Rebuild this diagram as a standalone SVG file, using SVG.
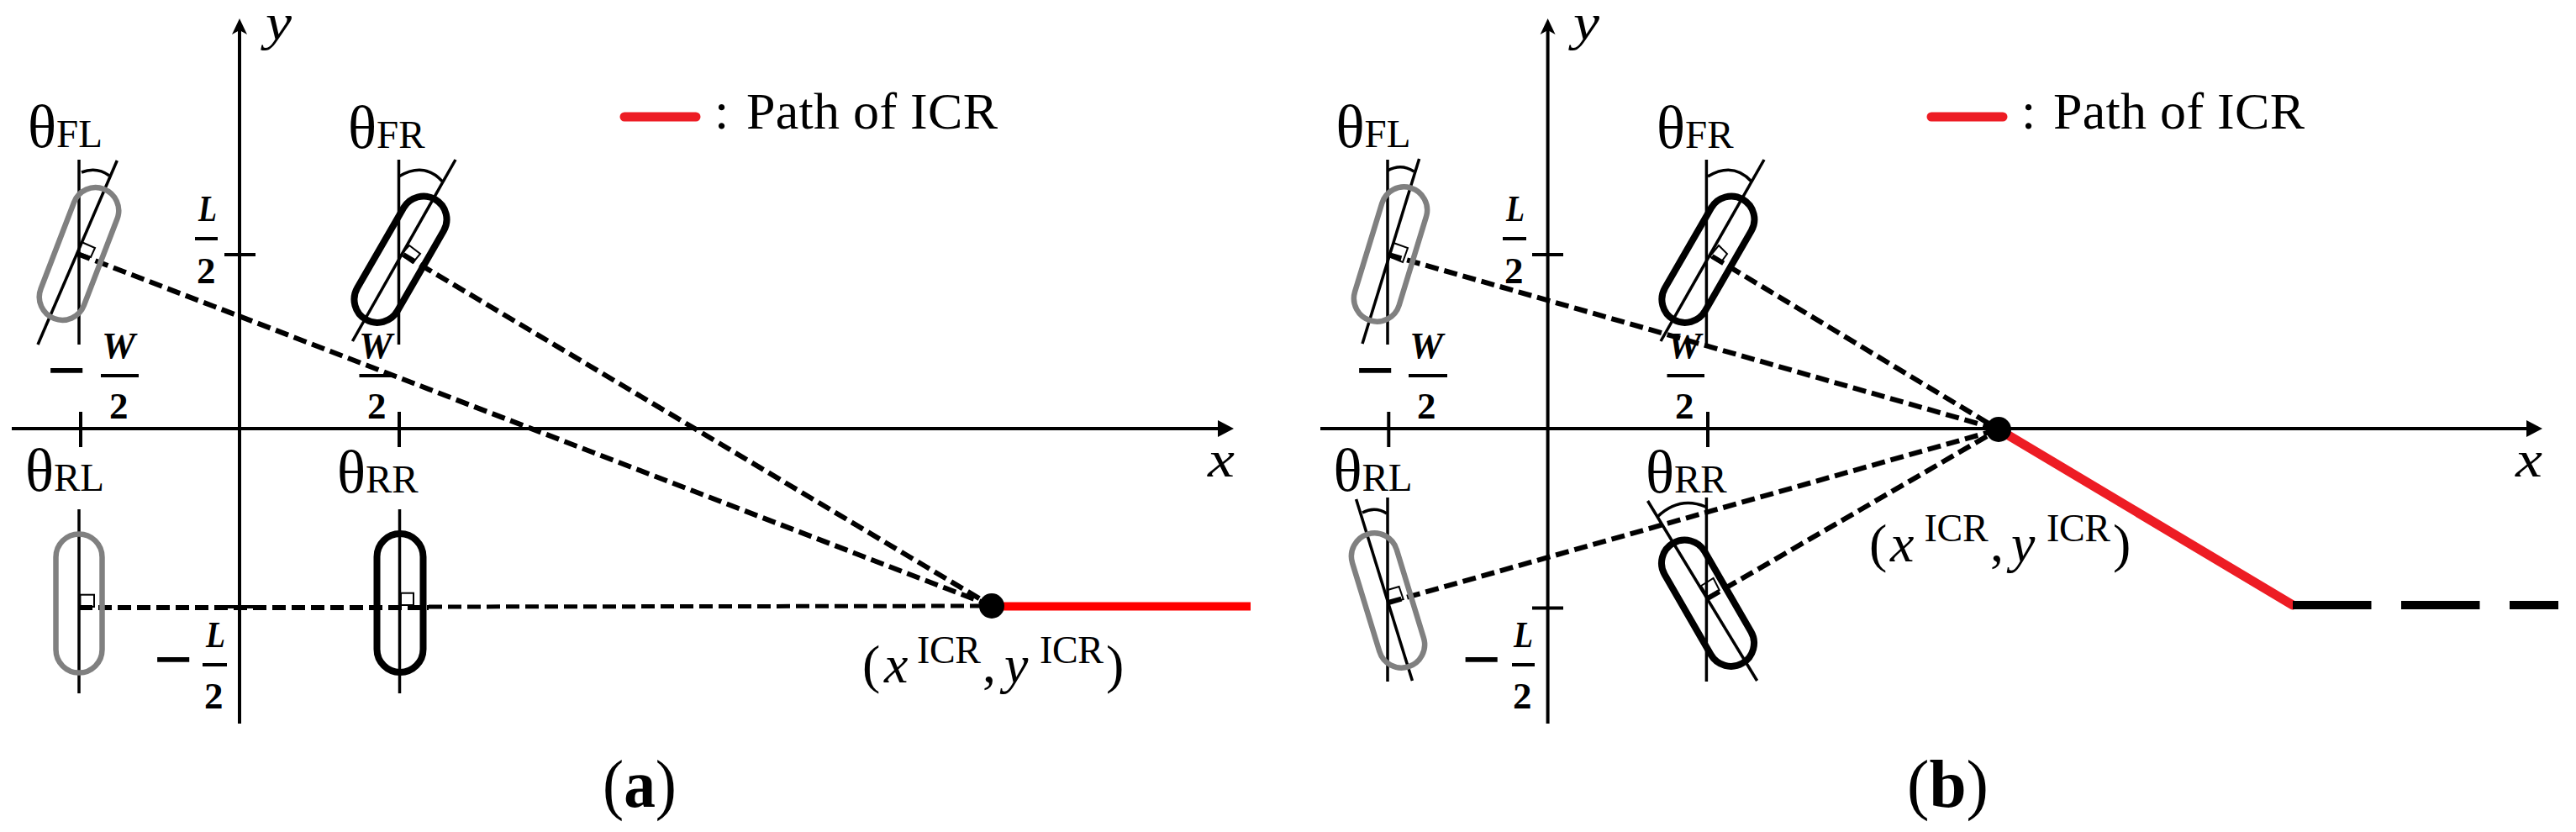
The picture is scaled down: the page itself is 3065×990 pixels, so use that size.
<svg xmlns="http://www.w3.org/2000/svg" width="3065" height="990" viewBox="0 0 3065 990">
<style>
text{font-family:"Liberation Serif","Times New Roman",serif;fill:#000}
.th{font-size:71px}.sub{font-size:47px}
.frac{font-size:45px;font-weight:bold;font-style:italic}
.two{font-size:45px;font-weight:bold}
.minus{font-size:82px;font-weight:bold}
.axl{font-size:62px;font-style:italic}
.leg{font-size:62px}
.m{font-size:64px;font-style:italic}
.pn{font-size:64px}
.sup{font-size:46px}
.cap{font-size:80px}
.capb{font-weight:bold}
.ax{stroke:#000;stroke-width:4;fill:none}
.thin{stroke:#000;stroke-width:3.500;fill:none}
.ang{stroke:#000;stroke-width:2;fill:none}
.bar{stroke:#000;stroke-width:4}
.dash{stroke:#000;stroke-width:6;stroke-dasharray:16 7;fill:none}
.dashn{stroke:#000;stroke-width:5;stroke-dasharray:16 7;fill:none}
.whg{fill:none;stroke:#808080;stroke-width:6.500}
.whk{fill:none;stroke:#000;stroke-width:8}
.redl{stroke:#ed1c24;stroke-width:11;stroke-linecap:round;fill:none}
</style>
<defs>
<marker id="ay" markerUnits="userSpaceOnUse" viewBox="0 0 20 20" refX="6" refY="10" markerWidth="20" markerHeight="20" orient="auto"><path d="M0 1L19 10L0 19L5 10Z" fill="#000"/></marker>
<marker id="ax" markerUnits="userSpaceOnUse" viewBox="0 0 20 20" refX="6" refY="10" markerWidth="20" markerHeight="20" orient="auto"><path d="M0 0L19 10L0 20Z" fill="#000"/></marker>
<rect id="wheel" x="-27.5" y="-82.5" width="55" height="165" rx="27.5" ry="27.5"/>
</defs>
<rect width="3065" height="990" fill="#fff"/>

<g id="panel-a">
<g id="a-axes">
<line class="ax" x1="285" y1="861" x2="285" y2="35" marker-end="url(#ay)"/>
<line class="ax" x1="14" y1="510" x2="1455" y2="510" marker-end="url(#ax)"/>
<line class="ax" x1="267" y1="303" x2="304" y2="303"/>
<line class="ax" x1="267" y1="722" x2="304" y2="722"/>
<line class="ax" x1="96" y1="490" x2="96" y2="532"/>
<line class="ax" x1="475" y1="490" x2="475" y2="532"/>
<text class="axl" x="316" y="47" textLength="31" lengthAdjust="spacingAndGlyphs">y</text>
<text class="axl" x="1437" y="567" textLength="32" lengthAdjust="spacingAndGlyphs">x</text>
</g>
<g id="a-connectors">
<line class="dash" x1="92" y1="302" x2="1180" y2="721"/>
<line class="dash" x1="480" y1="303" x2="1180" y2="721"/>
<line class="dash" x1="94" y1="723" x2="510" y2="723"/>
<line class="dashn" x1="510" y1="722" x2="1180" y2="721"/>
</g>
<g id="a-wheel-fl">
<line class="thin" x1="94" y1="190" x2="94" y2="410"/><line class="thin" x1="139.300" y1="191" x2="45" y2="410"/>
<path class="thin" d="M97 205Q115 198 130 209"/>
<use href="#wheel" class="whg" transform="translate(94 302) rotate(21)"/>
<path class="ang" d="M97 288L113 295L108 306L92 300Z"/>
<text class="th" x="33" y="175">θ<tspan class="sub">FL</tspan></text>
</g>
<g id="a-wheel-fr">
<line class="thin" x1="474.500" y1="190" x2="474.500" y2="410"/><line class="thin" x1="542" y1="190" x2="419.400" y2="406"/>
<path class="thin" d="M474.500 210Q505 192 526.500 216"/>
<use href="#wheel" class="whk" transform="translate(476.500 308.700) rotate(30)"/>
<path class="ang" d="M487 292L500 302L491 313L477 303Z"/>
<text class="th" x="414" y="175.700">θ<tspan class="sub">FR</tspan></text>
</g>
<g id="a-wheel-rl">
<line class="thin" x1="94" y1="606" x2="94" y2="825"/>
<use href="#wheel" class="whg" transform="translate(94 718)"/>
<rect class="ang" x="95.400" y="707.700" width="16.600" height="14.300"/>
<text class="th" x="30" y="584">θ<tspan class="sub">RL</tspan></text>
</g>
<g id="a-wheel-rr">
<line class="thin" x1="475.500" y1="606" x2="475.500" y2="825"/>
<use href="#wheel" class="whk" transform="translate(476 717.500)"/>
<rect class="ang" x="477" y="705.700" width="15" height="14.300"/>
<text class="th" x="401" y="586">θ<tspan class="sub">RR</tspan></text>
</g>
<g id="a-frac-l">
<text class="frac" x="236" y="263" textLength="22" lengthAdjust="spacingAndGlyphs">L</text><line class="bar" x1="232" y1="284" x2="259" y2="284"/><text class="two" x="234" y="337">2</text>
</g>
<g id="a-frac-w-left">
<text class="minus" x="56" y="468">−</text><text class="frac" x="121" y="426">W</text><line class="bar" x1="120" y1="447" x2="165" y2="447"/><text class="two" x="130" y="498">2</text>
</g>
<g id="a-frac-w-right">
<text class="frac" x="427" y="426">W</text><line class="bar" x1="427.500" y1="447" x2="472" y2="447"/><text class="two" x="437" y="498">2</text>
</g>
<g id="a-frac-l-neg">
<text class="minus" x="183" y="812">−</text><text class="frac" x="245" y="770" textLength="23" lengthAdjust="spacingAndGlyphs">L</text><line class="bar" x1="241" y1="791" x2="270" y2="791"/><text class="two" x="243" y="843">2</text>
</g>
<g id="a-icr">
<line stroke="#f00" stroke-width="10" x1="1180" y1="721.500" x2="1488" y2="721.500"/>
<circle cx="1180" cy="721" r="15"/>
<text class="pn" x="1026" y="812">(</text><text class="m" x="1052" y="812">x</text><text class="sup" x="1091" y="789" textLength="76">ICR</text><text class="pn" x="1169" y="812">,</text><text class="m" x="1195" y="812">y</text><text class="sup" x="1237" y="789" textLength="76">ICR</text><text class="pn" x="1316" y="812">)</text>
</g>
<g id="a-legend">
<line class="redl" x1="743" y1="139" x2="828" y2="139"/>
<text class="leg" x="850" y="153">:</text><text class="leg" x="888" y="153" textLength="299">Path of ICR</text>
</g>
<text class="cap" x="717" y="960" textLength="88" lengthAdjust="spacingAndGlyphs">(<tspan class="capb">a</tspan>)</text>
</g>

<g id="panel-b">
<g id="b-axes">
<line class="ax" x1="1841.600" y1="861" x2="1841.600" y2="35" marker-end="url(#ay)"/>
<line class="ax" x1="1571" y1="510" x2="3012" y2="510" marker-end="url(#ax)"/>
<line class="ax" x1="1823" y1="303" x2="1860" y2="303"/>
<line class="ax" x1="1823" y1="723.500" x2="1860" y2="723.500"/>
<line class="ax" x1="1652.300" y1="490" x2="1652.300" y2="532"/>
<line class="ax" x1="2032" y1="490" x2="2032" y2="532"/>
<text class="axl" x="1872" y="47" textLength="31" lengthAdjust="spacingAndGlyphs">y</text>
<text class="axl" x="2993" y="567" textLength="32" lengthAdjust="spacingAndGlyphs">x</text>
</g>
<g id="b-connectors">
<line class="dash" x1="1652" y1="303" x2="2378" y2="511"/>
<line class="dash" x1="2037" y1="305" x2="2378" y2="511"/>
<line class="dash" x1="1652" y1="717" x2="2378" y2="511"/>
<line class="dash" x1="2032" y1="712" x2="2378" y2="511"/>
</g>
<g id="b-wheel-fl">
<line class="thin" x1="1651" y1="190" x2="1651" y2="410"/><line class="thin" x1="1688.600" y1="189" x2="1621" y2="409"/>
<path class="thin" d="M1651 203Q1667 194 1682.400 204"/>
<use href="#wheel" class="whg" transform="translate(1654.500 302.500) rotate(17)"/>
<path class="ang" d="M1658 289L1675 295L1669 312L1652 305Z"/>
<text class="th" x="1589.600" y="175">θ<tspan class="sub">FL</tspan></text>
</g>
<g id="b-wheel-fr">
<line class="thin" x1="2030.400" y1="190" x2="2030.400" y2="410"/><line class="thin" x1="2099" y1="190" x2="1976" y2="406"/>
<path class="thin" d="M2032 210Q2062 192 2084 216"/>
<use href="#wheel" class="whk" transform="translate(2032.400 308.700) rotate(30)"/>
<path class="ang" d="M2045 292L2055 302L2047 313L2034.500 305Z"/>
<text class="th" x="1971" y="175.700">θ<tspan class="sub">FR</tspan></text>
</g>
<g id="b-wheel-rl">
<line class="thin" x1="1651" y1="592" x2="1651" y2="811"/><line class="thin" x1="1613.600" y1="594" x2="1680.400" y2="810"/>
<path class="thin" d="M1621 610Q1636 602 1650 611"/>
<use href="#wheel" class="whg" transform="translate(1651.500 714.500) rotate(-17)"/>
<path class="ang" d="M1651 702L1664.600 698L1669.700 713L1652 718Z"/>
<text class="th" x="1586.500" y="584">θ<tspan class="sub">RL</tspan></text>
</g>
<g id="b-wheel-rr">
<line class="thin" x1="2030.400" y1="592" x2="2030.400" y2="811"/><line class="thin" x1="1960.500" y1="596" x2="2090.600" y2="810"/>
<path class="thin" d="M1972 615Q1998 590 2029.400 603"/>
<use href="#wheel" class="whk" transform="translate(2032 717.700) rotate(-30)"/>
<path class="ang" d="M2024 697L2038.600 688L2045.700 702L2032 710Z"/>
<text class="th" x="1958" y="586">θ<tspan class="sub">RR</tspan></text>
</g>
<g id="b-frac-l">
<text class="frac" x="1792" y="263" textLength="22" lengthAdjust="spacingAndGlyphs">L</text><line class="bar" x1="1788" y1="284" x2="1816" y2="284"/><text class="two" x="1790" y="337">2</text>
</g>
<g id="b-frac-w-left">
<text class="minus" x="1613" y="468">−</text><text class="frac" x="1677" y="426">W</text><line class="bar" x1="1676" y1="447" x2="1722" y2="447"/><text class="two" x="1686" y="498">2</text>
</g>
<g id="b-frac-w-right">
<text class="frac" x="1984" y="426">W</text><line class="bar" x1="1983.500" y1="447" x2="2028" y2="447"/><text class="two" x="1993" y="498">2</text>
</g>
<g id="b-frac-l-neg">
<text class="minus" x="1739.600" y="812">−</text><text class="frac" x="1801" y="770" textLength="23" lengthAdjust="spacingAndGlyphs">L</text><line class="bar" x1="1799" y1="791" x2="1826" y2="791"/><text class="two" x="1800" y="843">2</text>
</g>
<g id="b-icr">
<line class="redl" x1="2378" y1="511" x2="2728" y2="720"/>
<line stroke="#000" stroke-width="10" stroke-dasharray="93.500 35.500" x1="2728" y1="720" x2="3044" y2="720"/>
<circle cx="2378" cy="511" r="15"/>
<text class="pn" x="2224" y="668">(</text><text class="m" x="2249" y="668">x</text><text class="sup" x="2289.600" y="644" textLength="76">ICR</text><text class="pn" x="2368" y="668">,</text><text class="m" x="2393" y="668">y</text><text class="sup" x="2435" y="644" textLength="76">ICR</text><text class="pn" x="2514" y="668">)</text>
</g>
<g id="b-legend">
<line class="redl" x1="2298" y1="139" x2="2383" y2="139"/>
<text class="leg" x="2405" y="153">:</text><text class="leg" x="2443" y="153" textLength="299">Path of ICR</text>
</g>
<text class="cap" x="2269" y="960" textLength="97" lengthAdjust="spacingAndGlyphs">(<tspan class="capb">b</tspan>)</text>
</g>
</svg>
